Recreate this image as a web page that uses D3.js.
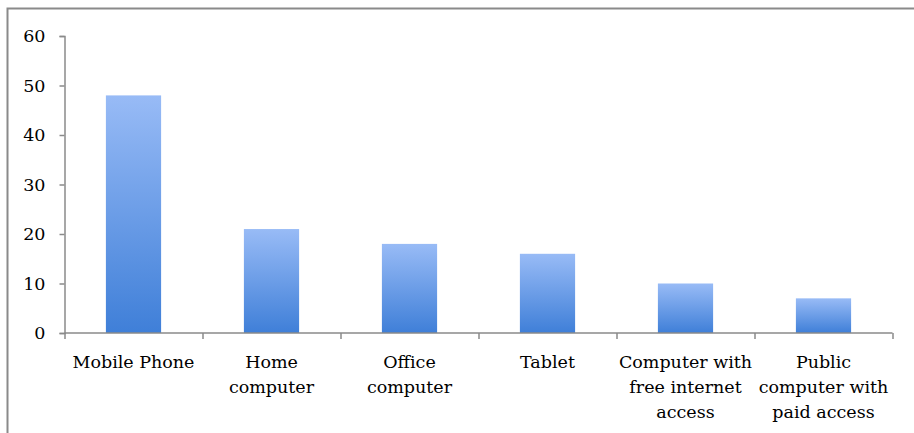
<!DOCTYPE html>
<html><head><meta charset="utf-8">
<script src="https://cdn.jsdelivr.net/npm/d3@7"></script>
<style>body{margin:0;background:#fff}svg{display:block}</style>
</head><body>
<script>
const categories = [["Mobile Phone"],["Home","computer"],["Office","computer"],["Tablet"],["Computer with","free internet","access"],["Public","computer with","paid access"]];
const values = [48, 21, 18, 16, 10, 7];
const yTicks = [0, 10, 20, 30, 40, 50, 60];

const W = 914, H = 433;
const svg = d3.select("body").append("svg").attr("width", W).attr("height", H);
const font = "'DejaVu Serif', serif";

// frame
svg.append("path").attr("d", `M7.5,${H} V8.5 H${W}`).attr("fill","none").attr("stroke","#8a8a8a").attr("stroke-width",2);

const x = d3.scaleBand().domain(d3.range(categories.length)).range([64.5, 892.5]).paddingInner(0.6).paddingOuter(0.3);
const y = d3.scaleLinear().domain([0, 60]).range([333, 36]);

const defs = svg.append("defs");
const g = defs.append("linearGradient").attr("id","bg").attr("x1",0).attr("y1",0).attr("x2",0).attr("y2",1);
g.append("stop").attr("offset",0).attr("stop-color","#98bbf6");
g.append("stop").attr("offset",1).attr("stop-color","#3f7fd8");

svg.selectAll("rect.bar").data(values).join("rect").attr("class","bar")
  .attr("x",(d,i)=>x(i)).attr("width",x.bandwidth())
  .attr("y",d=>y(d)).attr("height",d=>y(0)-y(d))
  .attr("fill","url(#bg)");

// y axis
const ya = svg.append("g").attr("transform","translate(64.5,0)")
  .call(d3.axisLeft(y).tickValues(yTicks).tickSize(5).tickPadding(14));
ya.select(".domain").attr("stroke","#8a8a8a").attr("stroke-width",1.5);
ya.selectAll(".tick line").attr("stroke","#8a8a8a").attr("stroke-width",1.5);
ya.selectAll("text").attr("font-family",font).attr("font-size",17.5).attr("fill","#000");

// x axis
const xb = d3.scaleLinear().domain([0, categories.length]).range([64.5, 892.5]);
const xa = svg.append("g").attr("transform",`translate(0,${y(0)})`)
  .call(d3.axisBottom(xb).tickValues(d3.range(categories.length+1)).tickSize(6).tickFormat(""));
xa.select(".domain").attr("stroke","#8a8a8a").attr("stroke-width",1.5).attr("d",`M64.5,0H892.5`);
xa.selectAll(".tick line").attr("stroke","#8a8a8a").attr("stroke-width",1.5);

const lab = svg.append("g");
categories.forEach((lines,i)=>{
  const t = lab.append("text").attr("x", xb(i+0.5)).attr("y", 368)
    .attr("text-anchor","middle").attr("font-family",font).attr("font-size",17.5).attr("fill","#000");
  lines.forEach((l,j)=>t.append("tspan").attr("x",xb(i+0.5)).attr("dy", j===0?0:25).text(l));
});
</script>
</body></html>
